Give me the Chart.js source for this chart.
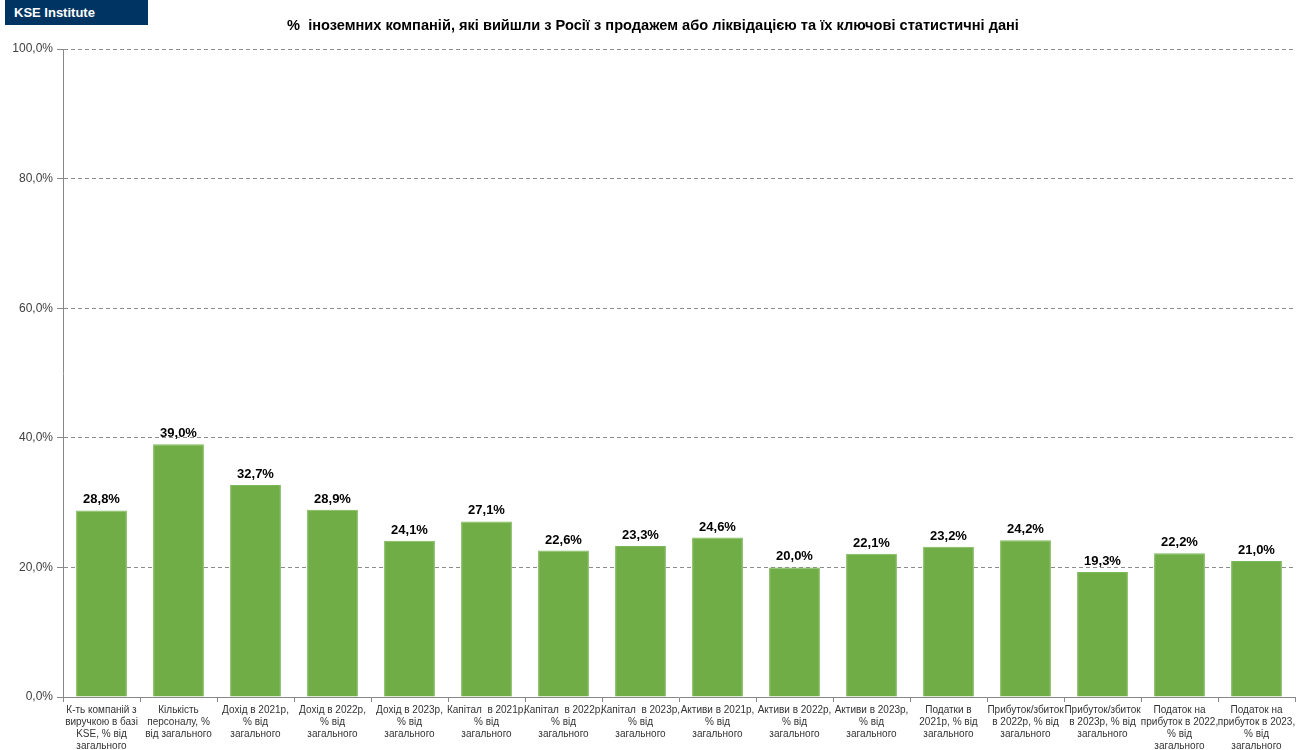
<!DOCTYPE html>
<html>
<head>
<meta charset="utf-8">
<script src="https://cdn.jsdelivr.net/npm/chart.js@4"></script>
<style>
  html, body { margin: 0; padding: 0; background: #fff; }
  #wrap { position: relative; width: 1299px; height: 750px; }
  #logo {
    position: absolute; left: 5px; top: 0; width: 143px; height: 25px;
    background: #003462; color: #fff; font: bold 13px "Liberation Sans", Arial, sans-serif;
    line-height: 25px; padding-left: 9px; box-sizing: border-box;
  }
  #title {
    position: absolute; left: 0; top: 17px; width: 1306px; text-align: center;
    font: bold 14.6px "Liberation Sans", Arial, sans-serif; color: #000;
  }
  canvas { position: absolute; left: 0; top: 0; }
</style>
</head>
<body>
<div id="wrap">
  <canvas id="chartCanvas" width="1299" height="750"></canvas>
  <div id="logo">KSE Institute</div>
  <div id="title">%&nbsp; іноземних компаній, які вийшли з Росії з продажем або ліквідацією та їх ключові статистичні дані</div>
</div>
<script>
const categories = [
  ["К-ть компаній з", "виручкою в базі", "KSE, % від", "загального"],
  ["Кількість", "персоналу, %", "від загального"],
  ["Дохід в 2021р,", "% від", "загального"],
  ["Дохід в 2022р,", "% від", "загального"],
  ["Дохід в 2023р,", "% від", "загального"],
  ["Капітал  в 2021р,", "% від", "загального"],
  ["Капітал  в 2022р,", "% від", "загального"],
  ["Капітал  в 2023р,", "% від", "загального"],
  ["Активи в 2021р,", "% від", "загального"],
  ["Активи в 2022р,", "% від", "загального"],
  ["Активи в 2023р,", "% від", "загального"],
  ["Податки в", "2021р, % від", "загального"],
  ["Прибуток/збиток", "в 2022р, % від", "загального"],
  ["Прибуток/збиток", "в 2023р, % від", "загального"],
  ["Податок на", "прибуток в 2022,", "% від", "загального"],
  ["Податок на", "прибуток в 2023,", "% від", "загального"]
];
const values = [28.8, 39.0, 32.7, 28.9, 24.1, 27.1, 22.6, 23.3, 24.6, 20.0, 22.1, 23.2, 24.2, 19.3, 22.2, 21.0];
const yMin = 0, yMax = 100, yStep = 20;

const fmt = v => v.toFixed(1).replace('.', ',') + '%';
const FONT = '"Liberation Sans", Arial, sans-serif';

const barLabels = {
  id: 'barLabels',
  afterDatasetsDraw(chart) {
    const c = chart.ctx;
    const meta = chart.getDatasetMeta(0);
    c.save();
    c.font = 'bold 13px ' + FONT;
    c.fillStyle = '#000';
    c.textAlign = 'center';
    c.textBaseline = 'bottom';
    meta.data.forEach((bar, i) => {
      c.fillText(fmt(values[i]), bar.x, bar.y - 4);
    });
    c.restore();
  }
};

const ctx = document.getElementById('chartCanvas').getContext('2d');
new Chart(ctx, {
  type: 'bar',
  data: {
    labels: categories,
    datasets: [{
      data: values,
      backgroundColor: '#70AD47',
      borderColor: '#7DB85A',
      borderWidth: 1,
      categoryPercentage: 1,
      barPercentage: 0.66
    }]
  },
  options: {
    responsive: false,
    animation: false,
    layout: { padding: { top: 49, right: 4, left: 0, bottom: 0 } },
    plugins: {
      legend: { display: false },
      tooltip: { enabled: false }
    },
    scales: {
      y: {
        min: yMin, max: yMax,
        ticks: { stepSize: yStep, callback: v => fmt(v), color: '#404040', font: { family: FONT, size: 12 }, padding: 4 },
        grid: {
          color: ctx => ctx.tick && ctx.tick.value === 0 ? 'rgba(0,0,0,0)' : '#8c8c8c',
          tickBorderDash: [],
          tickColor: '#888',
          tickLength: 6
        },
        border: { display: true, color: '#888', dash: [4, 3] },
        afterFit: s => { s.width = 63; }
      },
      x: {
        ticks: { color: '#333', font: { family: FONT, size: 10 }, maxRotation: 0, autoSkip: false, padding: 2 },
        grid: { drawOnChartArea: false, tickLength: 5, color: '#888', offset: true },
        border: { display: true, color: '#888' },
        afterFit: s => { s.height = 53; }
      }
    }
  },
  plugins: [barLabels]
});
</script>
</body>
</html>
